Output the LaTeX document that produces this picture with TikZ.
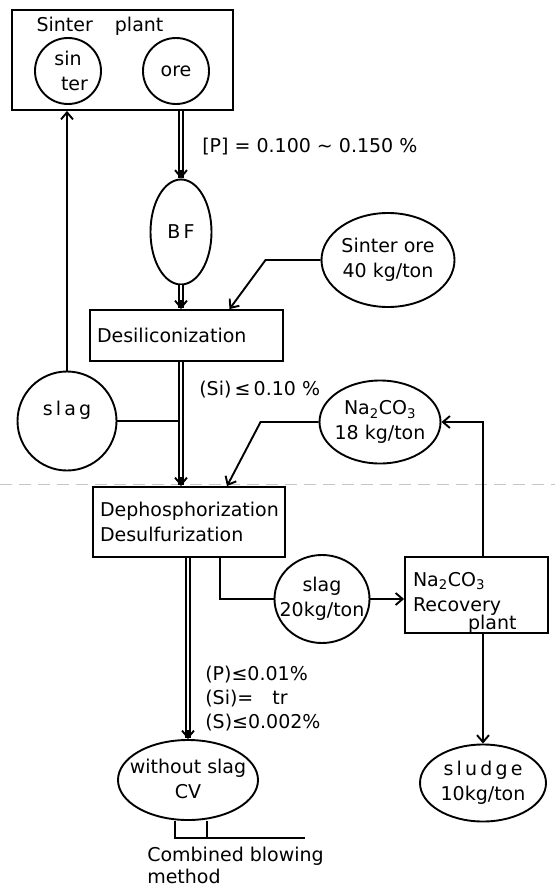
\documentclass[tikz,border=0pt]{standalone}
\usepackage{fontspec}
\setmainfont{DejaVu Sans}
\usetikzlibrary{arrows.meta,shapes.geometric}

\begin{document}
\begin{tikzpicture}[x=1pt,y=-1pt,line width=1.9pt,
  every node/.style={font=\fontsize{19}{25}\selectfont},
  unit/.style={draw, rectangle, inner xsep=7pt, inner ysep=0pt, align=left},
  oval/.style={draw, ellipse, inner sep=-20pt, align=center},
  ball/.style={draw, circle, inner sep=-20pt, align=center},
  dbl/.style={double, double distance=2.8pt, line width=1.4pt, shorten >=1pt},
  barb/.style={-{Straight Barb[length=7pt,width=12pt]}},
  note/.style={anchor=west, align=left}]
  \useasboundingbox (0,0) rectangle (555,888);

  % faint scan line
  \draw[gray!45, line width=0.6pt, dash pattern=on 12pt off 7pt] (0,484) -- (555,484);

  % Sinter plant
  \node[draw, rectangle, minimum width=221pt, minimum height=100pt] (plant) at (122.5,60) {};
  \node (plantname) at (100,26) {Sinter\hspace{22pt}plant};
  \node[ball, minimum size=66pt] (sinter) at (68,71) {sin\\\hspace*{13pt}ter};
  \node[ball, minimum size=66pt] (ore) at (176,71) {ore};

  % main line
  \node[oval, minimum width=61pt, minimum height=105pt] (bf) at (181,232) {B\,F};
  \node[unit, text width=179pt, minimum height=51pt] (desil) at (186.5,335.5) {Desiliconization};
  \node[unit, text width=178pt, minimum height=70pt] (dephos) at (189,522) {Dephosphorization\\Desulfurization};
  \node[oval, minimum width=140pt, minimum height=80pt] (cv) at (188,780) {\mbox{}\\[-12pt]without slag\\CV};

  % side streams
  \node[oval, minimum width=133pt, minimum height=94pt] (sinterore) at (388,260) {Sinter ore\\40 kg/ton};
  \node[ball, minimum size=99pt] (slagA) at (67,421) {s\,l\,a\,g\\\mbox{}};
  \node[oval, minimum width=121pt, minimum height=83pt] (na) at (380,422) {Na\textsubscript{2}CO\textsubscript{3}\\18 kg/ton};
  \node[oval, minimum width=95pt, minimum height=88pt] (slagB) at (322,599) {slag\\20kg/ton};
  \node[unit, inner xsep=8pt, text width=127pt, minimum height=74pt] (recovery) at (476.5,595)
    {\mbox{}\\[4pt]Na\textsubscript{2}CO\textsubscript{3}\\Recovery\\[-7pt]\hspace*{55pt}plant};
  \node[oval, minimum width=126pt, minimum height=77pt] (sludge) at (483,783) {s\,l\,u\,d\,g\,e\\10kg/ton};

  % compositions
  \node[note] (ptext) at (198,147) {[P] = 0.100 \textasciitilde{} 0.150 \%};
  \node[note] (sitext) at (195,390) {(Si)\,≤\,0.10 \%};
  \node[note, font=\fontsize{19}{24}\selectfont] (hmtext) at (201,699) {(P)≤0.01\%\\(Si)=\quad tr\\(S)≤0.002\%};
  \node[anchor=north west, align=left, font=\fontsize{19}{22}\selectfont] (blowtext) at (143,843) {Combined blowing\\method};

  % connectors
  \draw[barb] (slagA.north) -- (slagA.north |- plant.south);
  \draw[dbl] (bf.north |- plant.south) -- (bf.north);
  \draw[barb] ([yshift=9pt]bf.north) -- (bf.north);
  \draw[dbl] (bf.south) -- (bf.south |- desil.north);
  \draw[barb] ([yshift=9pt]bf.south |- desil.north) -- (bf.south |- desil.north);
  \draw[barb] (sinterore.west) -- ++(-55,0) -- ([xshift=43pt]desil.north);
  \draw (slagA.east) -- (slagA.east -| bf.south);
  \draw[dbl] (bf.south |- desil.south) -- (bf.south |- dephos.north);
  \draw[barb] ([yshift=9pt]bf.south |- dephos.north) -- (bf.south |- dephos.north);
  \draw[barb] (na.west) -- ++(-58,0) -- ([xshift=38pt]dephos.north);
  \draw ([xshift=31pt]dephos.south) |- (slagB.west);
  \draw[barb] (slagB.east) -- (slagB.east -| recovery.west);
  \draw[barb] (sludge.north |- recovery.north) |- (na.east);
  \draw[barb] (sludge.north |- recovery.south) -- (sludge.north);
  \draw[dbl] (cv.north |- dephos.south) -- (cv.north);
  \draw[barb] ([yshift=9pt]cv.north) -- (cv.north);

  % converter bottom
  \draw ([xshift=-13pt]cv.south) -- ++(0,17) -- ++(130,0);
  \draw ([xshift=19pt]cv.south) -- ++(0,17);
\end{tikzpicture}
\end{document}
